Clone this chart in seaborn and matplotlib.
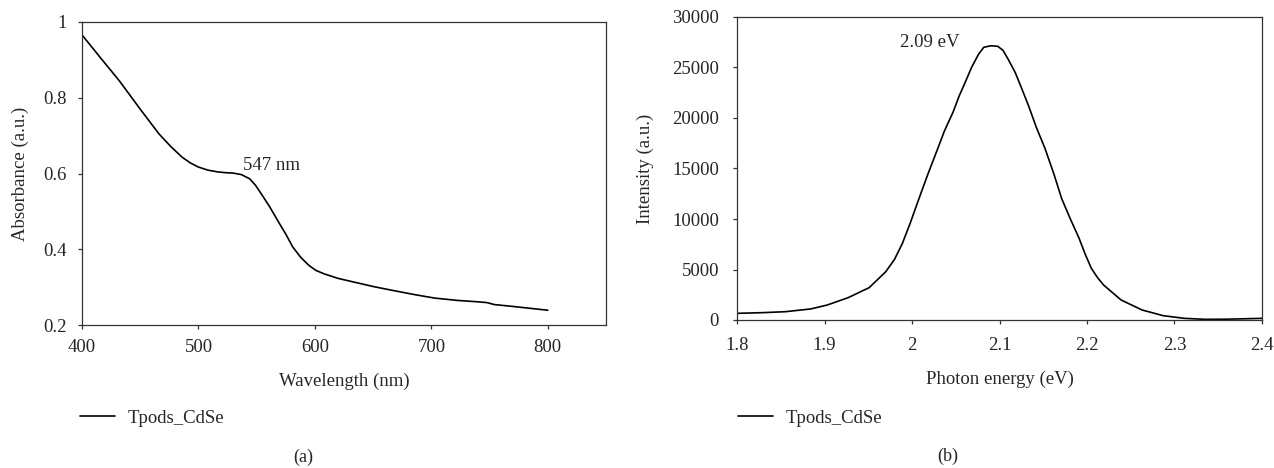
import pandas as pd
import matplotlib
matplotlib.use("Agg")
import matplotlib.pyplot as plt
import seaborn as sns

# absorbance spectrum (a)
wavelength = [400, 416, 432, 449, 466, 476, 486, 493, 500, 508, 517, 524, 530, 537, 544, 549,
              554, 561, 568, 575, 581, 588, 595, 601, 608, 620, 634, 651, 669, 686, 703,
              722, 741, 748, 754, 770, 785, 800]
absorbance = [0.966, 0.905, 0.845, 0.774, 0.705, 0.672, 0.643, 0.628, 0.617, 0.609, 0.604,
              0.602, 0.601, 0.597, 0.586, 0.569, 0.546, 0.513, 0.476, 0.440, 0.406, 0.378,
              0.357, 0.344, 0.335, 0.323, 0.313, 0.301, 0.290, 0.280, 0.271, 0.265, 0.261,
              0.259, 0.254, 0.249, 0.244, 0.239]

# photoluminescence spectrum (b)
energy = [1.800, 1.830, 1.855, 1.884, 1.903, 1.927, 1.951, 1.970, 1.980, 1.989, 1.998,
          2.008, 2.018, 2.028, 2.037, 2.047, 2.054, 2.061, 2.068, 2.076, 2.082, 2.090,
          2.098, 2.104, 2.110, 2.118, 2.125, 2.133, 2.142, 2.152, 2.162, 2.171, 2.181,
          2.191, 2.198, 2.205, 2.212, 2.219, 2.239, 2.263, 2.287, 2.311, 2.335, 2.360,
          2.380, 2.400]
intensity = [660, 730, 820, 1090, 1480, 2210, 3200, 4780, 6000, 7580, 9600,
             12030, 14400, 16650, 18700, 20600, 22200, 23570, 25000, 26300, 27000, 27150,
             27100, 26700, 25800, 24500, 23000, 21260, 19100, 16980, 14500, 12030, 10000,
             8080, 6500, 5110, 4200, 3460, 1980, 990, 430, 165, 66, 80,
             120, 165]

series_name = "Tpods_CdSe"

sns.set_style("ticks")
plt.rcParams["font.family"] = ["Liberation Serif", "DejaVu Serif"]

FS = 13.5

fig = plt.figure(figsize=(12.74, 4.68), dpi=100)
ax1 = fig.add_axes([82 / 1274, 1 - 325 / 468, 524 / 1274, 303 / 468])
ax2 = fig.add_axes([737 / 1274, 1 - 320 / 468, 525 / 1274, 303 / 468])

df_a = pd.DataFrame({"Wavelength (nm)": wavelength, "Absorbance (a.u.)": absorbance})
df_b = pd.DataFrame({"Photon energy (eV)": energy, "Intensity (a.u.)": intensity})

sns.lineplot(data=df_a, x="Wavelength (nm)", y="Absorbance (a.u.)", ax=ax1,
             color="black", linewidth=1.2, label=series_name, legend=False)
sns.lineplot(data=df_b, x="Photon energy (eV)", y="Intensity (a.u.)", ax=ax2,
             color="black", linewidth=1.2, label=series_name, legend=False)

ax1.set_xlim(400, 850)
ax1.set_ylim(0.2, 1.0)
ax1.set_xticks([400, 500, 600, 700, 800])
ax1.set_yticks([0.2, 0.4, 0.6, 0.8, 1.0])
ax1.set_yticklabels(["0.2", "0.4", "0.6", "0.8", "1"])
ax1.text(563, 0.621, "547 nm", fontsize=FS, va="center", ha="center")

ax2.set_xlim(1.8, 2.4)
ax2.set_ylim(0, 30000)
ax2.set_xticks([1.8, 1.9, 2.0, 2.1, 2.2, 2.3, 2.4])
ax2.set_xticklabels(["1.8", "1.9", "2", "2.1", "2.2", "2.3", "2.4"])
ax2.set_yticks(range(0, 30001, 5000))
ax2.text(2.02, 27500, "2.09 eV", fontsize=FS, va="center", ha="center")

for ax in (ax1, ax2):
    for s in ax.spines.values():
        s.set_visible(True)
        s.set_linewidth(0.9)
        s.set_color("#333333")
    ax.tick_params(direction="out", length=3, width=0.9, labelsize=FS, color="#333333")
    ax.xaxis.label.set_size(FS)
    ax.yaxis.label.set_size(FS)
    ax.xaxis.label.set_va("center")
    ax.yaxis.label.set_va("center")

ax1.tick_params(axis="x", pad=7)
ax1.tick_params(axis="y", pad=8)
ax2.tick_params(axis="x", pad=9)
ax2.tick_params(axis="y", pad=10)
ax1.xaxis.set_label_coords(0.5, -56 / 303)
ax1.yaxis.set_label_coords(-62 / 524, 0.5)
ax2.xaxis.set_label_coords(0.5, -59 / 303)
ax2.yaxis.set_label_coords(-92 / 525, 0.5)

# legends below each panel
for ax, x0 in ((ax1, 80), (ax2, 738)):
    h, l = ax.get_legend_handles_labels()
    fig.legend(h, l, loc="center left", bbox_to_anchor=(x0 / 1274, 1 - 418 / 468),
               frameon=False, fontsize=FS, handlelength=1.85, handletextpad=0.7,
               borderaxespad=0, borderpad=0)

fig.text(303 / 1274, 1 - 457 / 468, "(a)", ha="center", va="center", fontsize=13)
fig.text(948 / 1274, 1 - 456 / 468, "(b)", ha="center", va="center", fontsize=13)

fig.savefig("out.png", dpi=100)
